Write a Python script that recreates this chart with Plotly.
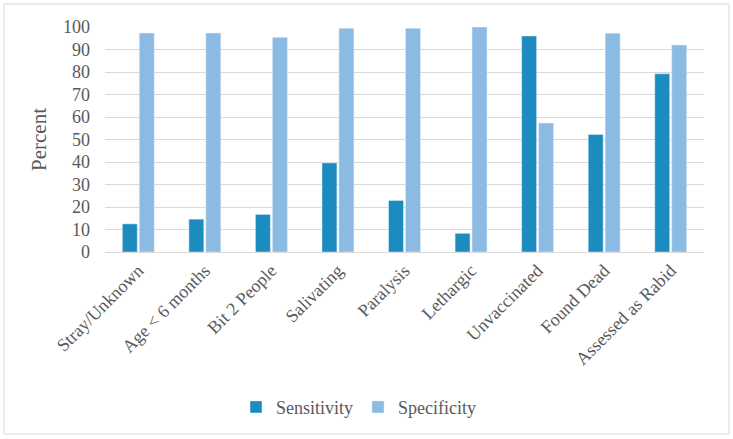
import plotly.graph_objects as go

categories = ["Stray/Unknown", "Age < 6 months", "Bit 2 People", "Salivating", "Paralysis",
              "Lethargic", "Unvaccinated", "Found Dead", "Assessed as Rabid"]
sensitivity = [12.5, 14.6, 16.7, 39.6, 22.9, 8.3, 96.0, 52.2, 79.2]
specificity = [97.3, 97.3, 95.4, 99.4, 99.4, 100.0, 57.3, 97.2, 92.0]
y_ticks = [0, 10, 20, 30, 40, 50, 60, 70, 80, 90, 100]

FONT = "Liberation Serif, Times New Roman, serif"
GRAY = "#595959"

fig = go.Figure()
fig.add_trace(go.Bar(name="Sensitivity", x=categories, y=sensitivity, marker_color="#1B8BC0"))
fig.add_trace(go.Bar(name="Specificity", x=categories, y=specificity, marker_color="#8BBAE2"))

fig.update_layout(
    width=733, height=439,
    margin=dict(l=105, r=29, t=27, b=187),
    paper_bgcolor="white", plot_bgcolor="white",
    barmode="group", bargap=0.49, bargroupgap=0.12,
    font=dict(family=FONT, color=GRAY, size=18),
    showlegend=True,
    legend=dict(orientation="h", x=(236 - 105) / 599, xanchor="left", y=-0.69, yanchor="middle",
                font=dict(family=FONT, size=18, color=GRAY), itemwidth=30,
                traceorder="normal"),
    xaxis=dict(tickangle=-45, tickfont=dict(family=FONT, size=18, color=GRAY), showgrid=False,
               showline=True, linecolor="#d9d9d9", ticks=""),
    yaxis=dict(range=[0, 100], tickvals=y_ticks, tickfont=dict(family=FONT, size=18, color=GRAY),
               gridcolor="#d9d9d9", zeroline=False, showline=False, ticks="",
               ticklabelstandoff=14,
               title=dict(text="Percent", font=dict(family=FONT, size=21, color=GRAY), standoff=10)),
    shapes=[dict(type="rect", xref="paper", yref="paper",
                 x0=(4 - 105) / 599, x1=(729 - 105) / 599,
                 y0=(252 - 434) / 225, y1=(252 - 4) / 225,
                 line=dict(color="#d9d9d9", width=1), layer="below")],
)

fig.write_html("out.html", config={"displayModeBar": False},
               post_script="document.body.style.margin='0';")
